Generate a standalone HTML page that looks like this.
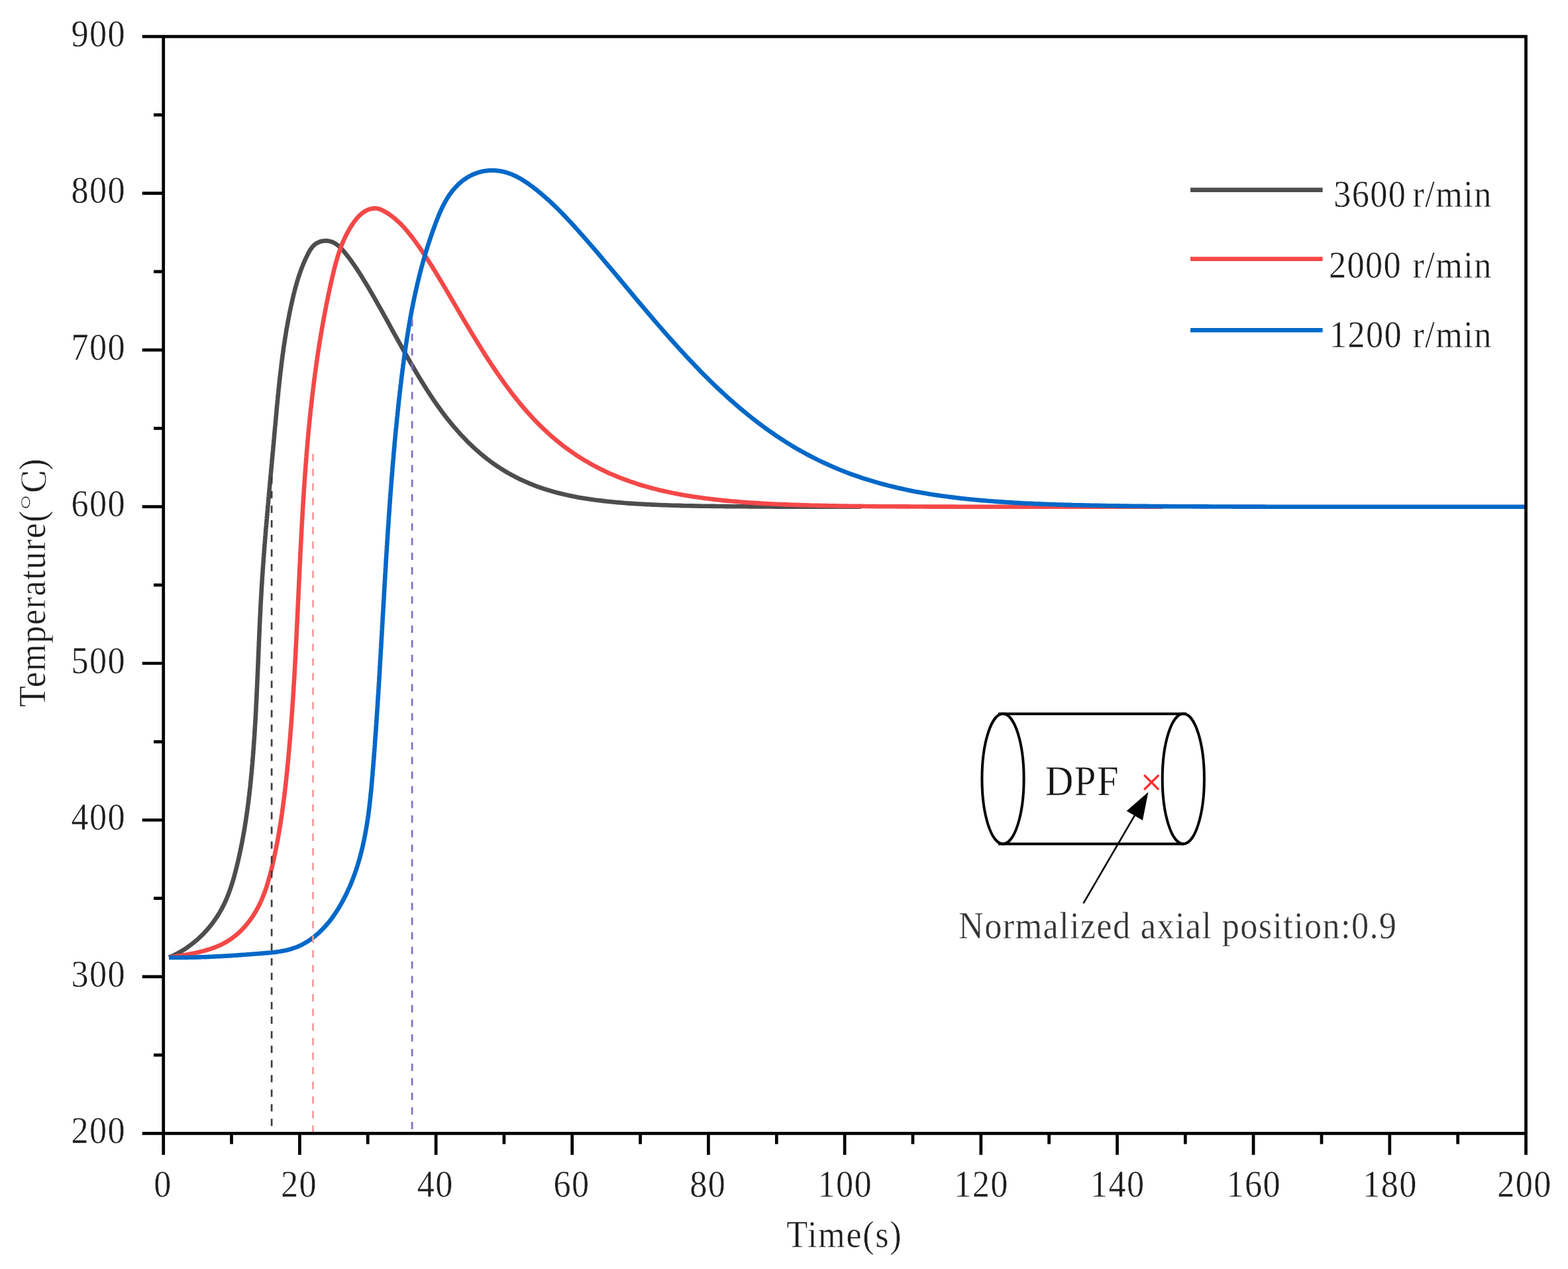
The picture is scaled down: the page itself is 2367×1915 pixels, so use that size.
<!DOCTYPE html>
<html lang="en">
<head>
<meta charset="utf-8">
<title>DPF temperature vs time</title>
<style>
html,body{margin:0;padding:0;background:#fff;}
body{width:2367px;height:1915px;overflow:hidden;}
svg{display:block;filter:blur(0.75px);}
text{font-family:"Liberation Serif","Noto Serif CJK SC","Noto Sans CJK SC",serif;font-size:55px;fill:#1e1e1e;stroke:#ffffff;stroke-width:0.45px;}
.ax{stroke:#000;stroke-width:4.7;fill:none;stroke-linecap:butt;}
.cv{fill:none;stroke-width:6.6;stroke-linejoin:round;stroke-linecap:butt;}
.ds{fill:none;stroke-width:2.7;stroke-dasharray:11 11.03;}
</style>
</head>
<body>
<svg width="2367" height="1915" viewBox="0 0 2367 1915">
<rect x="0" y="0" width="2367" height="1915" fill="#ffffff"/>

<g id="curves">
<path class="cv" stroke="#4d4d4d" d="M255.0,1444.8 L256.6,1444.1 L258.3,1443.4 L259.9,1442.7 L261.5,1441.9 L263.1,1441.2 L264.7,1440.4 L266.3,1439.6 L267.9,1438.7 L269.5,1437.9 L271.0,1437.0 L272.6,1436.1 L274.1,1435.2 L275.7,1434.3 L277.2,1433.3 L278.7,1432.4 L280.2,1431.4 L281.7,1430.4 L283.2,1429.4 L284.6,1428.3 L286.1,1427.3 L287.6,1426.2 L289.0,1425.1 L290.4,1424.0 L291.8,1422.9 L293.2,1421.8 L294.6,1420.6 L296.0,1419.4 L297.4,1418.3 L298.7,1417.1 L300.1,1415.8 L301.4,1414.6 L302.7,1413.4 L304.0,1412.1 L305.3,1410.8 L306.6,1409.6 L307.9,1408.3 L309.1,1406.9 L310.3,1405.6 L311.6,1404.3 L312.8,1402.9 L314.0,1401.5 L315.1,1400.2 L316.3,1398.8 L317.4,1397.4 L318.6,1396.0 L319.7,1394.5 L320.8,1393.1 L321.9,1391.6 L322.9,1390.2 L324.0,1388.7 L325.0,1387.2 L326.0,1385.7 L327.1,1384.2 L328.0,1382.7 L329.0,1381.2 L330.0,1379.7 L330.9,1378.1 L331.8,1376.6 L332.7,1375.0 L333.6,1373.5 L334.5,1371.9 L335.3,1370.3 L336.1,1368.7 L337.0,1367.1 L337.7,1365.5 L338.5,1363.9 L339.3,1362.3 L340.0,1360.7 L340.8,1359.1 L341.5,1357.4 L342.2,1355.8 L342.9,1354.1 L343.5,1352.5 L344.2,1350.8 L344.8,1349.1 L345.5,1347.5 L346.1,1345.8 L346.7,1344.1 L347.3,1342.4 L347.9,1340.7 L348.5,1339.0 L349.0,1337.3 L349.6,1335.6 L350.1,1333.9 L350.7,1332.2 L351.2,1330.5 L351.7,1328.8 L352.2,1327.1 L352.7,1325.3 L353.2,1323.6 L353.7,1321.9 L354.1,1320.1 L354.6,1318.4 L355.1,1316.7 L355.5,1314.9 L356.0,1313.2 L356.4,1311.5 L356.9,1309.7 L357.3,1308.0 L357.7,1306.2 L358.1,1304.5 L358.6,1302.7 L359.0,1301.0 L359.4,1299.2 L359.8,1297.5 L360.2,1295.7 L360.6,1294.0 L361.0,1292.2 L361.4,1290.5 L361.8,1288.7 L362.1,1287.0 L362.5,1285.2 L362.9,1283.5 L363.2,1281.7 L363.6,1279.9 L364.0,1278.2 L364.3,1276.4 L364.7,1274.7 L365.0,1272.9 L365.4,1271.1 L365.7,1269.4 L366.0,1267.6 L366.4,1265.8 L366.7,1264.1 L367.0,1262.3 L367.3,1260.6 L367.6,1258.8 L368.0,1257.0 L368.3,1255.2 L368.6,1253.5 L368.9,1251.7 L369.2,1249.9 L369.5,1248.2 L369.8,1246.4 L370.0,1244.6 L370.3,1242.8 L370.6,1241.1 L370.9,1239.3 L371.1,1237.5 L371.4,1235.7 L371.7,1234.0 L371.9,1232.2 L372.2,1230.4 L372.5,1228.6 L372.7,1226.9 L373.0,1225.1 L373.2,1223.3 L373.5,1221.5 L373.7,1219.7 L373.9,1217.9 L374.2,1216.2 L374.4,1214.4 L374.6,1212.6 L374.9,1210.8 L375.1,1209.0 L375.3,1207.2 L375.5,1205.5 L375.7,1203.7 L376.0,1201.9 L376.2,1200.1 L376.4,1198.3 L376.6,1196.5 L376.8,1194.7 L377.0,1193.0 L377.2,1191.2 L377.4,1189.4 L377.6,1187.6 L377.8,1185.8 L377.9,1184.0 L378.1,1182.2 L378.3,1180.4 L378.5,1178.6 L378.7,1176.9 L378.9,1175.1 L379.0,1173.3 L379.2,1171.5 L379.4,1169.7 L379.5,1167.9 L379.7,1166.1 L379.9,1164.3 L380.0,1162.5 L380.2,1160.7 L380.4,1158.9 L380.5,1157.2 L380.7,1155.4 L380.8,1153.6 L381.0,1151.8 L381.1,1150.0 L381.3,1148.2 L381.4,1146.4 L381.6,1144.6 L381.7,1142.8 L381.9,1141.0 L382.0,1139.2 L382.1,1137.4 L382.3,1135.6 L382.4,1133.8 L382.5,1132.1 L382.7,1130.3 L382.8,1128.5 L382.9,1126.7 L383.1,1124.9 L383.2,1123.1 L383.3,1121.3 L383.4,1119.5 L383.6,1117.7 L383.7,1115.9 L383.8,1114.1 L383.9,1112.3 L384.1,1110.5 L384.2,1108.7 L384.3,1106.9 L384.4,1105.1 L384.5,1103.3 L384.6,1101.5 L384.7,1099.7 L384.8,1097.9 L385.0,1096.1 L385.1,1094.4 L385.2,1092.6 L385.3,1090.8 L385.4,1089.0 L385.5,1087.2 L385.6,1085.4 L385.7,1083.6 L385.8,1081.8 L385.9,1080.0 L386.0,1078.2 L386.1,1076.4 L386.2,1074.6 L386.3,1072.8 L386.4,1071.0 L386.5,1069.2 L386.5,1067.4 L386.6,1065.6 L386.7,1063.8 L386.8,1062.0 L386.9,1060.2 L387.0,1058.4 L387.1,1056.6 L387.2,1054.8 L387.3,1053.0 L387.3,1051.2 L387.4,1049.4 L387.5,1047.6 L387.6,1045.8 L387.7,1044.0 L387.8,1042.2 L387.8,1040.4 L387.9,1038.7 L388.0,1036.9 L388.1,1035.1 L388.2,1033.3 L388.3,1031.5 L388.3,1029.7 L388.4,1027.9 L388.5,1026.1 L388.6,1024.3 L388.6,1022.5 L388.7,1020.7 L388.8,1018.9 L388.9,1017.1 L389.0,1015.3 L389.0,1013.5 L389.1,1011.7 L389.2,1009.9 L389.3,1008.1 L389.3,1006.3 L389.4,1004.5 L389.5,1002.7 L389.6,1000.9 L389.6,999.1 L389.7,997.3 L389.8,995.5 L389.9,993.7 L389.9,991.9 L390.0,990.1 L390.1,988.3 L390.2,986.5 L390.2,984.7 L390.3,982.9 L390.4,981.1 L390.5,979.3 L390.5,977.5 L390.6,975.7 L390.7,974.0 L390.8,972.2 L390.8,970.4 L390.9,968.6 L391.0,966.8 L391.1,965.0 L391.2,963.2 L391.2,961.4 L391.3,959.6 L391.4,957.8 L391.5,956.0 L391.5,954.2 L391.6,952.4 L391.7,950.6 L391.8,948.8 L391.9,947.0 L391.9,945.2 L392.0,943.4 L392.1,941.6 L392.2,939.8 L392.3,938.0 L392.4,936.2 L392.4,934.4 L392.5,932.7 L392.6,930.9 L392.7,929.1 L392.8,927.3 L392.9,925.5 L393.0,923.7 L393.1,921.9 L393.1,920.1 L393.2,918.3 L393.3,916.5 L393.4,914.7 L393.5,912.9 L393.6,911.1 L393.7,909.3 L393.8,907.5 L393.9,905.7 L394.0,904.0 L394.1,902.2 L394.2,900.4 L394.3,898.6 L394.4,896.8 L394.5,895.0 L394.6,893.2 L394.7,891.4 L394.8,889.6 L394.9,887.8 L395.0,886.0 L395.1,884.2 L395.2,882.5 L395.4,880.7 L395.5,878.9 L395.6,877.1 L395.7,875.3 L395.8,873.5 L395.9,871.7 L396.0,869.9 L396.2,868.1 L396.3,866.3 L396.4,864.6 L396.5,862.8 L396.6,861.0 L396.8,859.2 L396.9,857.4 L397.0,855.6 L397.1,853.8 L397.3,852.0 L397.4,850.2 L397.5,848.4 L397.7,846.7 L397.8,844.9 L397.9,843.1 L398.0,841.3 L398.2,839.5 L398.3,837.7 L398.4,835.9 L398.6,834.1 L398.7,832.4 L398.9,830.6 L399.0,828.8 L399.1,827.0 L399.3,825.2 L399.4,823.4 L399.5,821.6 L399.7,819.8 L399.8,818.0 L400.0,816.3 L400.1,814.5 L400.3,812.7 L400.4,810.9 L400.5,809.1 L400.7,807.3 L400.8,805.5 L401.0,803.7 L401.1,802.0 L401.3,800.2 L401.4,798.4 L401.6,796.6 L401.7,794.8 L401.9,793.0 L402.0,791.2 L402.2,789.4 L402.3,787.7 L402.5,785.9 L402.6,784.1 L402.8,782.3 L402.9,780.5 L403.1,778.7 L403.3,776.9 L403.4,775.1 L403.6,773.4 L403.7,771.6 L403.9,769.8 L404.0,768.0 L404.2,766.2 L404.3,764.4 L404.5,762.6 L404.7,760.8 L404.8,759.1 L405.0,757.3 L405.1,755.5 L405.3,753.7 L405.5,751.9 L405.6,750.1 L405.8,748.3 L405.9,746.5 L406.1,744.7 L406.3,743.0 L406.4,741.2 L406.6,739.4 L406.7,737.6 L406.9,735.8 L407.1,734.0 L407.2,732.2 L407.4,730.4 L407.6,728.6 L407.7,726.8 L407.9,725.1 L408.0,723.3 L408.2,721.5 L408.4,719.7 L408.5,717.9 L408.7,716.1 L408.9,714.3 L409.0,712.5 L409.2,710.7 L409.4,708.9 L409.5,707.2 L409.7,705.4 L409.9,703.6 L410.0,701.8 L410.2,700.0 L410.3,698.2 L410.5,696.4 L410.7,694.6 L410.8,692.8 L411.0,691.0 L411.2,689.2 L411.3,687.4 L411.5,685.6 L411.7,683.9 L411.8,682.1 L412.0,680.3 L412.2,678.5 L412.3,676.7 L412.5,674.9 L412.6,673.1 L412.8,671.3 L413.0,669.5 L413.1,667.7 L413.3,665.9 L413.5,664.1 L413.6,662.3 L413.8,660.5 L413.9,658.7 L414.1,656.9 L414.3,655.1 L414.4,653.3 L414.6,651.5 L414.8,649.7 L414.9,647.9 L415.1,646.1 L415.2,644.3 L415.4,642.5 L415.6,640.8 L415.7,639.0 L415.9,637.2 L416.1,635.4 L416.2,633.6 L416.4,631.8 L416.5,630.0 L416.7,628.2 L416.9,626.4 L417.0,624.6 L417.2,622.8 L417.4,621.0 L417.5,619.2 L417.7,617.4 L417.9,615.6 L418.0,613.8 L418.2,612.0 L418.4,610.2 L418.6,608.4 L418.7,606.6 L418.9,604.8 L419.1,603.0 L419.2,601.2 L419.4,599.4 L419.6,597.6 L419.8,595.8 L420.0,594.0 L420.1,592.2 L420.3,590.4 L420.5,588.6 L420.7,586.8 L420.9,585.0 L421.1,583.2 L421.3,581.5 L421.4,579.7 L421.6,577.9 L421.8,576.1 L422.0,574.3 L422.2,572.5 L422.4,570.7 L422.6,568.9 L422.8,567.1 L423.0,565.3 L423.2,563.5 L423.4,561.7 L423.6,560.0 L423.9,558.2 L424.1,556.4 L424.3,554.6 L424.5,552.8 L424.7,551.0 L424.9,549.2 L425.2,547.4 L425.4,545.7 L425.6,543.9 L425.8,542.1 L426.1,540.3 L426.3,538.5 L426.5,536.7 L426.8,535.0 L427.0,533.2 L427.3,531.4 L427.5,529.6 L427.8,527.9 L428.0,526.1 L428.3,524.3 L428.5,522.5 L428.8,520.7 L429.1,519.0 L429.3,517.2 L429.6,515.4 L429.9,513.7 L430.1,511.9 L430.4,510.1 L430.7,508.3 L431.0,506.6 L431.3,504.8 L431.6,503.0 L431.8,501.3 L432.1,499.5 L432.4,497.8 L432.7,496.0 L433.0,494.2 L433.4,492.5 L433.7,490.7 L434.0,488.9 L434.3,487.2 L434.6,485.4 L435.0,483.7 L435.3,481.9 L435.6,480.2 L436.0,478.4 L436.3,476.7 L436.6,474.9 L437.0,473.2 L437.3,471.4 L437.7,469.7 L438.1,467.9 L438.4,466.2 L438.8,464.4 L439.2,462.7 L439.5,461.0 L439.9,459.2 L440.3,457.5 L440.7,455.7 L441.1,454.0 L441.5,452.3 L441.9,450.5 L442.3,448.8 L442.7,447.1 L443.1,445.3 L443.5,443.6 L444.0,441.9 L444.4,440.2 L444.8,438.4 L445.3,436.7 L445.7,435.0 L446.2,433.3 L446.7,431.6 L447.2,429.8 L447.6,428.1 L448.1,426.4 L448.6,424.7 L449.2,423.0 L449.7,421.3 L450.2,419.6 L450.8,417.9 L451.3,416.2 L451.9,414.5 L452.5,412.8 L453.1,411.1 L453.7,409.4 L454.3,407.7 L454.9,406.0 L455.5,404.3 L456.2,402.6 L456.9,400.9 L457.5,399.3 L458.2,397.6 L459.0,395.9 L459.7,394.2 L460.4,392.5 L461.2,390.9 L462.0,389.2 L462.8,387.5 L463.6,385.9 L464.4,384.2 L465.2,382.6 L466.1,380.9 L467.0,379.3 L467.9,377.7 L468.9,376.2 L470.0,374.7 L471.1,373.2 L472.2,371.9 L473.4,370.6 L474.7,369.4 L476.1,368.3 L477.6,367.3 L479.1,366.4 L480.7,365.7 L482.3,365.0 L484.0,364.5 L485.7,364.0 L487.5,363.7 L489.2,363.5 L491.0,363.3 L492.8,363.4 L494.6,363.5 L496.3,363.7 L498.0,364.1 L499.7,364.6 L501.4,365.1 L503.0,365.8 L504.6,366.7 L507.1,368.2 L509.1,369.6 L511.1,371.3 L513.1,373.1 L515.1,375.1 L517.1,377.2 L519.1,379.5 L521.1,381.9 L523.1,384.4 L525.1,386.9 L527.1,389.5 L529.1,392.2 L531.1,395.0 L533.1,397.8 L535.1,400.7 L537.1,403.6 L539.1,406.6 L541.1,409.7 L543.1,412.8 L545.1,416.0 L547.1,419.2 L549.1,422.4 L551.1,425.7 L553.1,429.0 L555.1,432.3 L557.1,435.7 L559.1,439.1 L560.1,440.9 L565.1,449.5 L570.1,458.3 L575.1,467.2 L580.1,476.2 L585.1,485.2 L590.1,494.3 L595.1,503.3 L600.1,512.4 L605.1,521.4 L610.1,530.3 L615.1,539.2 L620.1,547.9 L625.1,556.5 L630.1,565.0 L635.1,573.3 L640.1,581.3 L645.1,589.2 L650.1,596.9 L655.1,604.3 L660.1,611.5 L665.1,618.5 L670.1,625.2 L675.1,631.7 L680.1,637.9 L685.1,643.9 L690.1,649.7 L695.1,655.3 L700.1,660.6 L705.1,665.8 L710.1,670.7 L715.1,675.4 L720.1,679.9 L725.1,684.3 L730.1,688.4 L735.1,692.4 L740.1,696.1 L745.1,699.8 L750.1,703.2 L755.1,706.5 L760.1,709.6 L765.1,712.6 L770.1,715.5 L775.1,718.2 L780.1,720.8 L785.1,723.2 L790.1,725.6 L795.1,727.8 L800.1,729.9 L805.1,731.9 L810.1,733.8 L815.1,735.6 L820.1,737.3 L825.1,738.9 L830.1,740.4 L835.1,741.9 L840.1,743.2 L845.1,744.5 L850.1,745.7 L855.1,746.9 L860.1,748.0 L865.1,749.0 L870.1,750.0 L875.1,750.9 L880.1,751.7 L885.1,752.5 L890.1,753.3 L895.1,754.0 L900.1,754.7 L905.1,755.3 L910.1,755.9 L915.1,756.5 L920.1,757.0 L925.1,757.5 L930.1,758.0 L935.1,758.4 L940.1,758.8 L945.1,759.2 L950.1,759.6 L955.1,759.9 L960.1,760.2 L965.1,760.5 L970.1,760.8 L975.1,761.1 L980.1,761.3 L985.1,761.6 L990.1,761.8 L995.1,762.0 L1000.1,762.2 L1005.1,762.3 L1010.1,762.5 L1015.1,762.7 L1020.1,762.8 L1025.1,762.9 L1030.1,763.1 L1035.1,763.2 L1040.1,763.3 L1045.1,763.4 L1050.1,763.5 L1055.1,763.6 L1060.1,763.7 L1065.1,763.7 L1070.1,763.8 L1075.1,763.9 L1080.1,763.9 L1085.1,764.0 L1090.1,764.0 L1095.1,764.1 L1100.1,764.1 L1105.1,764.2 L1110.1,764.2 L1115.1,764.3 L1120.1,764.3 L1125.1,764.3 L1130.1,764.4 L1135.1,764.4 L1140.1,764.4 L1145.1,764.4 L1150.1,764.5 L1155.1,764.5 L1160.1,764.5 L1165.1,764.5 L1170.1,764.6 L1175.1,764.6 L1180.1,764.6 L1185.1,764.6 L1190.1,764.6 L1195.1,764.6 L1200.1,764.6 L1205.1,764.6 L1210.1,764.7 L1215.1,764.7 L1220.1,764.7 L1225.1,764.7 L1230.1,764.7 L1235.1,764.7 L1240.1,764.7 L1245.1,764.7 L1250.1,764.7 L1255.1,764.7 L1260.1,764.7 L1265.1,764.7 L1270.1,764.7 L1275.1,764.7 L1280.1,764.7 L1285.1,764.7 L1290.1,764.8 L1295.1,764.8 L1300.0,764.8"/>
<path class="cv" stroke="#f44848" d="M255.0,1444.8 L256.8,1444.5 L258.7,1444.2 L260.5,1443.9 L262.3,1443.7 L264.2,1443.4 L266.1,1443.1 L267.9,1442.8 L269.8,1442.5 L271.7,1442.2 L273.5,1441.9 L275.4,1441.6 L277.3,1441.3 L279.2,1441.0 L281.1,1440.7 L283.0,1440.3 L284.9,1440.0 L286.7,1439.6 L288.6,1439.3 L290.5,1438.9 L292.4,1438.5 L294.3,1438.2 L296.2,1437.8 L298.0,1437.3 L299.9,1436.9 L301.8,1436.5 L303.6,1436.0 L305.5,1435.6 L307.4,1435.1 L309.2,1434.6 L311.0,1434.0 L312.9,1433.5 L314.7,1432.9 L316.5,1432.4 L318.3,1431.8 L320.1,1431.2 L321.9,1430.5 L323.7,1429.9 L325.5,1429.2 L327.2,1428.5 L328.9,1427.7 L330.7,1427.0 L332.4,1426.2 L334.1,1425.4 L335.8,1424.6 L337.5,1423.7 L339.1,1422.8 L340.8,1421.9 L342.4,1421.0 L344.0,1420.0 L345.6,1419.0 L347.2,1418.0 L348.7,1416.9 L350.3,1415.8 L351.8,1414.7 L353.3,1413.5 L354.8,1412.4 L356.3,1411.2 L357.7,1409.9 L359.1,1408.7 L360.6,1407.4 L362.0,1406.1 L363.3,1404.8 L364.7,1403.5 L366.0,1402.1 L367.3,1400.7 L368.6,1399.3 L369.9,1397.9 L371.2,1396.4 L372.4,1395.0 L373.6,1393.5 L374.8,1392.0 L376.0,1390.5 L377.1,1388.9 L378.3,1387.4 L379.4,1385.8 L380.5,1384.3 L381.6,1382.7 L382.6,1381.1 L383.6,1379.5 L384.6,1377.8 L385.6,1376.2 L386.6,1374.6 L387.5,1372.9 L388.4,1371.2 L389.3,1369.6 L390.2,1367.9 L391.1,1366.2 L391.9,1364.5 L392.7,1362.8 L393.5,1361.0 L394.3,1359.3 L395.0,1357.6 L395.8,1355.8 L396.5,1354.1 L397.2,1352.3 L397.9,1350.5 L398.6,1348.8 L399.3,1347.0 L399.9,1345.2 L400.6,1343.4 L401.2,1341.6 L401.8,1339.8 L402.4,1338.0 L403.0,1336.2 L403.6,1334.3 L404.1,1332.5 L404.7,1330.7 L405.2,1328.8 L405.7,1327.0 L406.2,1325.2 L406.8,1323.3 L407.3,1321.5 L407.7,1319.6 L408.2,1317.8 L408.7,1315.9 L409.2,1314.1 L409.6,1312.2 L410.1,1310.4 L410.5,1308.5 L411.0,1306.6 L411.4,1304.8 L411.8,1302.9 L412.3,1301.1 L412.7,1299.2 L413.1,1297.3 L413.5,1295.5 L413.9,1293.6 L414.3,1291.7 L414.7,1289.9 L415.1,1288.0 L415.5,1286.2 L415.9,1284.3 L416.3,1282.4 L416.6,1280.6 L417.0,1278.7 L417.4,1276.8 L417.7,1275.0 L418.1,1273.1 L418.5,1271.2 L418.8,1269.4 L419.2,1267.5 L419.5,1265.6 L419.8,1263.8 L420.2,1261.9 L420.5,1260.0 L420.8,1258.2 L421.2,1256.3 L421.5,1254.4 L421.8,1252.6 L422.1,1250.7 L422.4,1248.8 L422.7,1246.9 L423.0,1245.1 L423.3,1243.2 L423.6,1241.3 L423.9,1239.5 L424.2,1237.6 L424.5,1235.7 L424.8,1233.8 L425.0,1232.0 L425.3,1230.1 L425.6,1228.2 L425.8,1226.3 L426.1,1224.5 L426.4,1222.6 L426.6,1220.7 L426.9,1218.9 L427.1,1217.0 L427.4,1215.1 L427.6,1213.2 L427.9,1211.3 L428.1,1209.5 L428.4,1207.6 L428.6,1205.7 L428.8,1203.8 L429.1,1202.0 L429.3,1200.1 L429.5,1198.2 L429.8,1196.3 L430.0,1194.5 L430.2,1192.6 L430.4,1190.7 L430.6,1188.8 L430.8,1186.9 L431.1,1185.1 L431.3,1183.2 L431.5,1181.3 L431.7,1179.4 L431.9,1177.5 L432.1,1175.6 L432.3,1173.8 L432.5,1171.9 L432.7,1170.0 L432.9,1168.1 L433.1,1166.2 L433.3,1164.4 L433.5,1162.5 L433.6,1160.6 L433.8,1158.7 L434.0,1156.8 L434.2,1154.9 L434.4,1153.0 L434.6,1151.2 L434.8,1149.3 L434.9,1147.4 L435.1,1145.5 L435.3,1143.6 L435.5,1141.7 L435.6,1139.8 L435.8,1138.0 L436.0,1136.1 L436.1,1134.2 L436.3,1132.3 L436.5,1130.4 L436.6,1128.5 L436.8,1126.6 L437.0,1124.7 L437.1,1122.8 L437.3,1121.0 L437.5,1119.1 L437.6,1117.2 L437.8,1115.3 L437.9,1113.4 L438.1,1111.5 L438.2,1109.6 L438.4,1107.7 L438.5,1105.8 L438.7,1103.9 L438.8,1102.0 L439.0,1100.2 L439.1,1098.3 L439.3,1096.4 L439.4,1094.5 L439.6,1092.6 L439.7,1090.7 L439.9,1088.8 L440.0,1086.9 L440.1,1085.0 L440.3,1083.1 L440.4,1081.2 L440.6,1079.3 L440.7,1077.4 L440.8,1075.5 L441.0,1073.6 L441.1,1071.8 L441.2,1069.9 L441.3,1068.0 L441.5,1066.1 L441.6,1064.2 L441.7,1062.3 L441.9,1060.4 L442.0,1058.5 L442.1,1056.6 L442.2,1054.7 L442.4,1052.8 L442.5,1050.9 L442.6,1049.0 L442.7,1047.1 L442.8,1045.2 L443.0,1043.3 L443.1,1041.4 L443.2,1039.5 L443.3,1037.6 L443.4,1035.7 L443.5,1033.8 L443.7,1031.9 L443.8,1030.0 L443.9,1028.1 L444.0,1026.2 L444.1,1024.3 L444.2,1022.4 L444.3,1020.5 L444.4,1018.6 L444.6,1016.7 L444.7,1014.8 L444.8,1012.9 L444.9,1011.0 L445.0,1009.1 L445.1,1007.2 L445.2,1005.3 L445.3,1003.4 L445.4,1001.5 L445.5,999.6 L445.6,997.7 L445.7,995.8 L445.8,993.9 L445.9,992.0 L446.0,990.1 L446.1,988.2 L446.2,986.3 L446.3,984.4 L446.4,982.5 L446.5,980.6 L446.6,978.7 L446.7,976.8 L446.8,974.9 L446.9,973.0 L447.0,971.1 L447.1,969.2 L447.2,967.3 L447.3,965.4 L447.4,963.5 L447.5,961.6 L447.6,959.7 L447.7,957.8 L447.8,955.9 L447.8,954.0 L447.9,952.0 L448.0,950.1 L448.1,948.2 L448.2,946.3 L448.3,944.4 L448.4,942.5 L448.5,940.6 L448.6,938.7 L448.7,936.8 L448.8,934.9 L448.9,933.0 L448.9,931.1 L449.0,929.2 L449.1,927.3 L449.2,925.4 L449.3,923.5 L449.4,921.6 L449.5,919.7 L449.6,917.8 L449.7,915.9 L449.7,914.0 L449.8,912.1 L449.9,910.2 L450.0,908.3 L450.1,906.3 L450.2,904.4 L450.3,902.5 L450.4,900.6 L450.5,898.7 L450.5,896.8 L450.6,894.9 L450.7,893.0 L450.8,891.1 L450.9,889.2 L451.0,887.3 L451.1,885.4 L451.2,883.5 L451.3,881.6 L451.3,879.7 L451.4,877.8 L451.5,875.9 L451.6,874.0 L451.7,872.1 L451.8,870.2 L451.9,868.3 L452.0,866.3 L452.1,864.4 L452.1,862.5 L452.2,860.6 L452.3,858.7 L452.4,856.8 L452.5,854.9 L452.6,853.0 L452.7,851.1 L452.8,849.2 L452.9,847.3 L453.0,845.4 L453.1,843.5 L453.2,841.6 L453.2,839.7 L453.3,837.8 L453.4,835.9 L453.5,834.0 L453.6,832.1 L453.7,830.2 L453.8,828.3 L453.9,826.4 L454.0,824.4 L454.1,822.5 L454.2,820.6 L454.3,818.7 L454.4,816.8 L454.5,814.9 L454.6,813.0 L454.7,811.1 L454.8,809.2 L454.9,807.3 L455.0,805.4 L455.1,803.5 L455.2,801.6 L455.3,799.7 L455.4,797.8 L455.5,795.9 L455.6,794.0 L455.7,792.1 L455.8,790.2 L455.9,788.3 L456.0,786.4 L456.1,784.5 L456.2,782.6 L456.3,780.7 L456.5,778.8 L456.6,776.9 L456.7,775.0 L456.8,773.1 L456.9,771.2 L457.0,769.3 L457.1,767.4 L457.2,765.5 L457.3,763.6 L457.5,761.7 L457.6,759.8 L457.7,757.9 L457.8,756.0 L457.9,754.1 L458.0,752.2 L458.2,750.3 L458.3,748.4 L458.4,746.5 L458.5,744.6 L458.7,742.7 L458.8,740.8 L458.9,738.9 L459.0,737.0 L459.2,735.1 L459.3,733.2 L459.4,731.3 L459.5,729.4 L459.7,727.5 L459.8,725.6 L459.9,723.7 L460.1,721.8 L460.2,719.9 L460.3,718.0 L460.5,716.1 L460.6,714.2 L460.7,712.3 L460.9,710.4 L461.0,708.5 L461.2,706.6 L461.3,704.7 L461.4,702.8 L461.6,700.9 L461.7,699.0 L461.9,697.1 L462.0,695.2 L462.2,693.3 L462.3,691.4 L462.5,689.5 L462.6,687.6 L462.8,685.7 L462.9,683.8 L463.1,681.9 L463.2,680.1 L463.4,678.2 L463.6,676.3 L463.7,674.4 L463.9,672.5 L464.0,670.6 L464.2,668.7 L464.4,666.8 L464.5,664.9 L464.7,663.0 L464.9,661.1 L465.0,659.2 L465.2,657.3 L465.4,655.5 L465.6,653.6 L465.7,651.7 L465.9,649.8 L466.1,647.9 L466.3,646.0 L466.5,644.1 L466.6,642.2 L466.8,640.3 L467.0,638.4 L467.2,636.6 L467.4,634.7 L467.6,632.8 L467.8,630.9 L468.0,629.0 L468.2,627.1 L468.3,625.2 L468.5,623.3 L468.7,621.4 L468.9,619.6 L469.1,617.7 L469.3,615.8 L469.6,613.9 L469.8,612.0 L470.0,610.1 L470.2,608.2 L470.4,606.4 L470.6,604.5 L470.8,602.6 L471.0,600.7 L471.2,598.8 L471.5,596.9 L471.7,595.1 L471.9,593.2 L472.1,591.3 L472.4,589.4 L472.6,587.5 L472.8,585.6 L473.0,583.8 L473.3,581.9 L473.5,580.0 L473.7,578.1 L474.0,576.2 L474.2,574.4 L474.5,572.5 L474.7,570.6 L475.0,568.7 L475.2,566.9 L475.4,565.0 L475.7,563.1 L476.0,561.2 L476.2,559.3 L476.5,557.5 L476.7,555.6 L477.0,553.7 L477.2,551.8 L477.5,550.0 L477.8,548.1 L478.0,546.2 L478.3,544.3 L478.6,542.5 L478.9,540.6 L479.1,538.7 L479.4,536.8 L479.7,535.0 L480.0,533.1 L480.2,531.2 L480.5,529.3 L480.8,527.5 L481.1,525.6 L481.4,523.7 L481.7,521.9 L482.0,520.0 L482.3,518.1 L482.6,516.3 L482.9,514.4 L483.2,512.5 L483.5,510.7 L483.8,508.8 L484.1,506.9 L484.4,505.1 L484.7,503.2 L485.1,501.3 L485.4,499.5 L485.7,497.6 L486.0,495.7 L486.4,493.9 L486.7,492.0 L487.0,490.1 L487.3,488.3 L487.7,486.4 L488.0,484.5 L488.4,482.7 L488.7,480.8 L489.0,479.0 L489.4,477.1 L489.7,475.2 L490.1,473.4 L490.4,471.5 L490.8,469.7 L491.2,467.8 L491.5,465.9 L491.9,464.1 L492.2,462.2 L492.6,460.4 L493.0,458.5 L493.4,456.7 L493.7,454.8 L494.1,452.9 L494.5,451.1 L494.9,449.2 L495.2,447.4 L495.6,445.5 L496.0,443.7 L496.4,441.8 L496.8,440.0 L497.2,438.1 L497.6,436.3 L498.0,434.4 L498.4,432.6 L498.8,430.7 L499.2,428.9 L499.6,427.0 L500.1,425.2 L500.5,423.3 L500.9,421.5 L501.3,419.6 L501.7,417.8 L502.2,415.9 L502.6,414.1 L503.1,412.2 L503.5,410.4 L503.9,408.6 L504.4,406.7 L504.9,404.9 L505.3,403.0 L505.8,401.2 L506.3,399.4 L506.8,397.5 L507.3,395.7 L507.8,393.9 L508.3,392.1 L508.8,390.3 L509.4,388.4 L509.9,386.6 L510.5,384.8 L511.1,383.0 L511.7,381.2 L512.3,379.4 L512.9,377.6 L513.5,375.9 L514.2,374.1 L514.9,372.3 L515.5,370.5 L516.2,368.8 L516.9,367.0 L517.7,365.3 L518.4,363.5 L519.2,361.8 L520.0,360.0 L520.8,358.3 L521.6,356.6 L522.5,354.9 L523.4,353.1 L524.3,351.4 L525.2,349.8 L526.1,348.1 L527.1,346.4 L528.1,344.7 L529.1,343.1 L530.1,341.4 L531.2,339.7 L532.3,338.1 L533.4,336.5 L534.5,334.9 L535.7,333.3 L536.9,331.8 L538.1,330.2 L539.4,328.8 L540.7,327.3 L542.0,325.9 L543.4,324.6 L544.8,323.3 L546.3,322.1 L547.8,321.0 L549.3,319.9 L550.9,318.9 L552.5,318.0 L554.1,317.2 L555.8,316.4 L557.5,315.8 L559.3,315.3 L561.2,314.9 L563.0,314.6 L564.9,314.4 L566.9,314.4 L568.7,314.5 L570.6,314.8 L572.4,315.4 L574.2,316.0 L575.9,316.8 L577.7,317.6 L579.4,318.5 L583.0,320.5 L585.0,321.8 L587.0,323.1 L589.0,324.5 L591.0,325.9 L593.0,327.5 L595.0,329.1 L597.0,330.7 L599.0,332.5 L601.0,334.3 L603.0,336.2 L605.0,338.2 L607.0,340.2 L609.0,342.3 L611.0,344.5 L613.0,346.8 L615.0,349.2 L617.0,351.6 L619.0,354.1 L621.0,356.6 L623.0,359.2 L625.0,361.9 L627.0,364.6 L629.0,367.4 L631.0,370.2 L633.0,373.0 L635.0,375.9 L636.0,377.4 L641.0,384.8 L646.0,392.4 L651.0,400.3 L656.0,408.3 L661.0,416.4 L666.0,424.7 L671.0,433.1 L676.0,441.6 L681.0,450.1 L686.0,458.6 L691.0,467.1 L696.0,475.6 L701.0,484.1 L706.0,492.5 L711.0,500.9 L716.0,509.1 L721.0,517.3 L726.0,525.3 L731.0,533.3 L736.0,541.1 L741.0,548.7 L746.0,556.2 L751.0,563.6 L756.0,570.7 L761.0,577.7 L766.0,584.6 L771.0,591.2 L776.0,597.7 L781.0,604.0 L786.0,610.1 L791.0,616.0 L796.0,621.8 L801.0,627.3 L806.0,632.7 L811.0,637.9 L816.0,642.9 L821.0,647.7 L826.0,652.4 L831.0,656.9 L836.0,661.2 L841.0,665.4 L846.0,669.4 L851.0,673.3 L856.0,677.0 L861.0,680.6 L866.0,684.1 L871.0,687.4 L876.0,690.7 L881.0,693.8 L886.0,696.7 L891.0,699.6 L896.0,702.4 L901.0,705.0 L906.0,707.6 L911.0,710.0 L916.0,712.4 L921.0,714.7 L926.0,716.8 L931.0,718.9 L936.0,721.0 L941.0,722.9 L946.0,724.7 L951.0,726.5 L956.0,728.2 L961.0,729.9 L966.0,731.5 L971.0,733.0 L976.0,734.4 L981.0,735.8 L986.0,737.1 L991.0,738.4 L996.0,739.7 L1001.0,740.8 L1006.0,741.9 L1011.0,743.0 L1016.0,744.1 L1021.0,745.0 L1026.0,746.0 L1031.0,746.9 L1036.0,747.8 L1041.0,748.6 L1046.0,749.4 L1051.0,750.1 L1056.0,750.8 L1061.0,751.5 L1066.0,752.2 L1071.0,752.8 L1076.0,753.4 L1081.0,754.0 L1086.0,754.5 L1091.0,755.1 L1096.0,755.6 L1101.0,756.0 L1106.0,756.5 L1111.0,756.9 L1116.0,757.3 L1121.0,757.7 L1126.0,758.1 L1131.0,758.5 L1136.0,758.8 L1141.0,759.1 L1146.0,759.4 L1151.0,759.7 L1156.0,760.0 L1161.0,760.2 L1166.0,760.5 L1171.0,760.7 L1176.0,761.0 L1181.0,761.2 L1186.0,761.4 L1191.0,761.6 L1196.0,761.7 L1201.0,761.9 L1206.0,762.1 L1211.0,762.2 L1216.0,762.4 L1221.0,762.5 L1226.0,762.7 L1231.0,762.8 L1236.0,762.9 L1241.0,763.0 L1246.0,763.1 L1251.0,763.2 L1256.0,763.3 L1261.0,763.4 L1266.0,763.5 L1271.0,763.6 L1276.0,763.6 L1281.0,763.7 L1286.0,763.8 L1291.0,763.8 L1296.0,763.9 L1301.0,763.9 L1306.0,764.0 L1311.0,764.0 L1316.0,764.1 L1321.0,764.1 L1326.0,764.2 L1331.0,764.2 L1336.0,764.2 L1341.0,764.3 L1346.0,764.3 L1351.0,764.3 L1356.0,764.4 L1361.0,764.4 L1366.0,764.4 L1371.0,764.4 L1376.0,764.5 L1381.0,764.5 L1386.0,764.5 L1391.0,764.5 L1396.0,764.5 L1401.0,764.6 L1406.0,764.6 L1411.0,764.6 L1416.0,764.6 L1421.0,764.6 L1426.0,764.6 L1431.0,764.6 L1436.0,764.6 L1441.0,764.6 L1446.0,764.7 L1451.0,764.7 L1456.0,764.7 L1461.0,764.7 L1466.0,764.7 L1471.0,764.7 L1476.0,764.7 L1481.0,764.7 L1486.0,764.7 L1491.0,764.7 L1496.0,764.7 L1501.0,764.7 L1506.0,764.7 L1511.0,764.7 L1516.0,764.7 L1521.0,764.7 L1526.0,764.7 L1531.0,764.7 L1536.0,764.8 L1541.0,764.8 L1546.0,764.8 L1551.0,764.8 L1556.0,764.8 L1561.0,764.8 L1566.0,764.8 L1571.0,764.8 L1576.0,764.8 L1581.0,764.8 L1586.0,764.8 L1591.0,764.8 L1596.0,764.8 L1601.0,764.8 L1606.0,764.8 L1611.0,764.8 L1616.0,764.8 L1621.0,764.8 L1626.0,764.8 L1631.0,764.8 L1636.0,764.8 L1641.0,764.8 L1646.0,764.8 L1651.0,764.8 L1656.0,764.8 L1661.0,764.8 L1666.0,764.8 L1671.0,764.8 L1676.0,764.8 L1681.0,764.8 L1686.0,764.8 L1691.0,764.8 L1696.0,764.8 L1701.0,764.8 L1706.0,764.8 L1711.0,764.8 L1716.0,764.8 L1721.0,764.8 L1726.0,764.8 L1731.0,764.8 L1736.0,764.8 L1741.0,764.8 L1746.0,764.8 L1751.0,764.8 L1756.0,764.8"/>
<path class="cv" stroke="#0068c8" d="M255.0,1445.0 L257.2,1445.0 L259.4,1445.0 L261.6,1445.0 L263.8,1445.0 L266.0,1445.0 L268.1,1445.0 L270.3,1445.0 L272.5,1445.0 L274.6,1445.0 L276.8,1444.9 L278.9,1444.9 L281.1,1444.9 L283.2,1444.9 L285.4,1444.8 L287.5,1444.8 L289.6,1444.7 L291.8,1444.7 L293.9,1444.6 L296.0,1444.6 L298.1,1444.5 L300.3,1444.4 L302.4,1444.4 L304.5,1444.3 L306.6,1444.2 L308.7,1444.1 L310.8,1444.1 L312.9,1444.0 L315.0,1443.9 L317.1,1443.8 L319.2,1443.7 L321.3,1443.6 L323.5,1443.5 L325.6,1443.4 L327.7,1443.3 L329.8,1443.2 L331.9,1443.1 L334.0,1443.0 L336.1,1442.9 L338.2,1442.7 L340.3,1442.6 L342.4,1442.5 L344.5,1442.4 L346.6,1442.2 L348.7,1442.1 L350.9,1442.0 L353.0,1441.8 L355.1,1441.7 L357.2,1441.6 L359.4,1441.4 L361.5,1441.3 L363.6,1441.1 L365.8,1441.0 L367.9,1440.8 L370.0,1440.7 L372.2,1440.5 L374.3,1440.3 L376.5,1440.2 L378.7,1440.0 L380.8,1439.8 L383.0,1439.7 L385.2,1439.5 L387.4,1439.3 L389.5,1439.2 L391.7,1439.0 L393.9,1438.8 L396.1,1438.6 L398.4,1438.5 L400.6,1438.3 L402.8,1438.1 L405.0,1437.9 L407.2,1437.7 L409.4,1437.5 L411.7,1437.2 L413.9,1437.0 L416.1,1436.7 L418.3,1436.4 L420.5,1436.1 L422.6,1435.8 L424.8,1435.4 L427.0,1435.0 L429.1,1434.6 L431.3,1434.2 L433.4,1433.7 L435.5,1433.2 L437.5,1432.6 L439.6,1432.0 L441.6,1431.4 L443.7,1430.7 L445.6,1430.0 L447.6,1429.3 L449.6,1428.5 L451.5,1427.6 L453.4,1426.8 L455.3,1425.8 L457.1,1424.9 L458.9,1423.9 L460.8,1422.9 L462.6,1421.8 L464.3,1420.7 L466.1,1419.6 L467.8,1418.5 L469.5,1417.3 L471.2,1416.0 L472.9,1414.8 L474.5,1413.5 L476.1,1412.2 L477.7,1410.8 L479.3,1409.5 L480.9,1408.1 L482.4,1406.7 L483.9,1405.2 L485.4,1403.7 L486.9,1402.2 L488.4,1400.7 L489.8,1399.1 L491.2,1397.6 L492.7,1396.0 L494.0,1394.4 L495.4,1392.7 L496.8,1391.1 L498.1,1389.4 L499.4,1387.7 L500.7,1386.0 L502.0,1384.2 L503.2,1382.5 L504.4,1380.7 L505.7,1379.0 L506.9,1377.2 L508.0,1375.4 L509.2,1373.5 L510.4,1371.7 L511.5,1369.9 L512.6,1368.0 L513.7,1366.1 L514.8,1364.3 L515.8,1362.4 L516.9,1360.5 L517.9,1358.6 L518.9,1356.7 L519.9,1354.8 L520.9,1352.9 L521.9,1350.9 L522.8,1349.0 L523.7,1347.1 L524.6,1345.1 L525.5,1343.2 L526.4,1341.2 L527.3,1339.3 L528.2,1337.3 L529.0,1335.4 L529.8,1333.4 L530.6,1331.4 L531.4,1329.5 L532.2,1327.5 L533.0,1325.5 L533.7,1323.5 L534.5,1321.5 L535.2,1319.5 L535.9,1317.5 L536.6,1315.5 L537.3,1313.5 L538.0,1311.5 L538.6,1309.5 L539.3,1307.4 L539.9,1305.4 L540.5,1303.4 L541.1,1301.4 L541.7,1299.3 L542.3,1297.3 L542.9,1295.2 L543.5,1293.2 L544.0,1291.1 L544.5,1289.1 L545.1,1287.0 L545.6,1285.0 L546.1,1282.9 L546.6,1280.8 L547.1,1278.8 L547.6,1276.7 L548.0,1274.6 L548.5,1272.6 L548.9,1270.5 L549.4,1268.4 L549.8,1266.3 L550.2,1264.2 L550.7,1262.1 L551.1,1260.0 L551.4,1257.9 L551.8,1255.8 L552.2,1253.7 L552.6,1251.6 L552.9,1249.5 L553.3,1247.4 L553.6,1245.3 L554.0,1243.2 L554.3,1241.1 L554.6,1239.0 L555.0,1236.8 L555.3,1234.7 L555.6,1232.6 L555.9,1230.5 L556.2,1228.3 L556.4,1226.2 L556.7,1224.1 L557.0,1222.0 L557.3,1219.8 L557.5,1217.7 L557.8,1215.6 L558.0,1213.4 L558.3,1211.3 L558.5,1209.1 L558.7,1207.0 L559.0,1204.9 L559.2,1202.7 L559.4,1200.6 L559.6,1198.4 L559.9,1196.3 L560.1,1194.2 L560.3,1192.0 L560.5,1189.9 L560.7,1187.7 L560.9,1185.6 L561.1,1183.4 L561.3,1181.3 L561.5,1179.1 L561.6,1177.0 L561.8,1174.8 L562.0,1172.7 L562.2,1170.5 L562.4,1168.4 L562.5,1166.2 L562.7,1164.1 L562.9,1161.9 L563.1,1159.8 L563.2,1157.6 L563.4,1155.5 L563.6,1153.3 L563.7,1151.2 L563.9,1149.0 L564.1,1146.9 L564.3,1144.7 L564.4,1142.6 L564.6,1140.4 L564.7,1138.3 L564.9,1136.1 L565.1,1134.0 L565.2,1131.8 L565.4,1129.7 L565.6,1127.5 L565.7,1125.4 L565.9,1123.2 L566.0,1121.1 L566.2,1118.9 L566.3,1116.8 L566.5,1114.6 L566.6,1112.5 L566.8,1110.3 L566.9,1108.2 L567.1,1106.1 L567.3,1103.9 L567.4,1101.8 L567.6,1099.6 L567.7,1097.5 L567.8,1095.3 L568.0,1093.2 L568.1,1091.0 L568.3,1088.9 L568.4,1086.7 L568.6,1084.6 L568.7,1082.5 L568.9,1080.3 L569.0,1078.2 L569.1,1076.0 L569.3,1073.9 L569.4,1071.7 L569.6,1069.6 L569.7,1067.4 L569.8,1065.3 L570.0,1063.2 L570.1,1061.0 L570.3,1058.9 L570.4,1056.7 L570.5,1054.6 L570.7,1052.4 L570.8,1050.3 L570.9,1048.1 L571.1,1046.0 L571.2,1043.9 L571.3,1041.7 L571.5,1039.6 L571.6,1037.4 L571.7,1035.3 L571.9,1033.1 L572.0,1031.0 L572.1,1028.9 L572.3,1026.7 L572.4,1024.6 L572.5,1022.4 L572.6,1020.3 L572.8,1018.2 L572.9,1016.0 L573.0,1013.9 L573.2,1011.7 L573.3,1009.6 L573.4,1007.4 L573.5,1005.3 L573.7,1003.2 L573.8,1001.0 L573.9,998.9 L574.0,996.7 L574.2,994.6 L574.3,992.5 L574.4,990.3 L574.5,988.2 L574.7,986.0 L574.8,983.9 L574.9,981.8 L575.0,979.6 L575.2,977.5 L575.3,975.3 L575.4,973.2 L575.5,971.1 L575.7,968.9 L575.8,966.8 L575.9,964.7 L576.0,962.5 L576.1,960.4 L576.3,958.2 L576.4,956.1 L576.5,954.0 L576.6,951.8 L576.8,949.7 L576.9,947.5 L577.0,945.4 L577.1,943.3 L577.2,941.1 L577.4,939.0 L577.5,936.9 L577.6,934.7 L577.7,932.6 L577.8,930.4 L578.0,928.3 L578.1,926.2 L578.2,924.0 L578.3,921.9 L578.5,919.8 L578.6,917.6 L578.7,915.5 L578.8,913.3 L578.9,911.2 L579.1,909.1 L579.2,906.9 L579.3,904.8 L579.4,902.7 L579.6,900.5 L579.7,898.4 L579.8,896.3 L579.9,894.1 L580.0,892.0 L580.2,889.9 L580.3,887.7 L580.4,885.6 L580.5,883.4 L580.7,881.3 L580.8,879.2 L580.9,877.0 L581.0,874.9 L581.2,872.8 L581.3,870.6 L581.4,868.5 L581.5,866.4 L581.7,864.2 L581.8,862.1 L581.9,860.0 L582.0,857.8 L582.2,855.7 L582.3,853.6 L582.4,851.4 L582.6,849.3 L582.7,847.2 L582.8,845.0 L582.9,842.9 L583.1,840.8 L583.2,838.6 L583.3,836.5 L583.5,834.3 L583.6,832.2 L583.7,830.1 L583.9,827.9 L584.0,825.8 L584.1,823.7 L584.3,821.5 L584.4,819.4 L584.5,817.3 L584.7,815.1 L584.8,813.0 L585.0,810.9 L585.1,808.7 L585.2,806.6 L585.4,804.5 L585.5,802.3 L585.6,800.2 L585.8,798.1 L585.9,795.9 L586.1,793.8 L586.2,791.7 L586.4,789.6 L586.5,787.4 L586.6,785.3 L586.8,783.2 L586.9,781.0 L587.1,778.9 L587.2,776.8 L587.4,774.6 L587.5,772.5 L587.7,770.4 L587.8,768.2 L588.0,766.1 L588.1,764.0 L588.3,761.8 L588.4,759.7 L588.6,757.6 L588.7,755.4 L588.9,753.3 L589.0,751.2 L589.2,749.0 L589.4,746.9 L589.5,744.8 L589.7,742.6 L589.8,740.5 L590.0,738.4 L590.2,736.2 L590.3,734.1 L590.5,732.0 L590.6,729.9 L590.8,727.7 L591.0,725.6 L591.1,723.5 L591.3,721.3 L591.5,719.2 L591.7,717.1 L591.8,714.9 L592.0,712.8 L592.2,710.7 L592.3,708.5 L592.5,706.4 L592.7,704.3 L592.9,702.1 L593.0,700.0 L593.2,697.9 L593.4,695.8 L593.6,693.6 L593.8,691.5 L593.9,689.4 L594.1,687.2 L594.3,685.1 L594.5,683.0 L594.7,680.8 L594.9,678.7 L595.1,676.6 L595.3,674.4 L595.5,672.3 L595.6,670.2 L595.8,668.0 L596.0,665.9 L596.2,663.8 L596.4,661.7 L596.6,659.5 L596.8,657.4 L597.0,655.3 L597.2,653.1 L597.4,651.0 L597.6,648.9 L597.8,646.7 L598.1,644.6 L598.3,642.5 L598.5,640.3 L598.7,638.2 L598.9,636.1 L599.1,634.0 L599.3,631.8 L599.5,629.7 L599.8,627.6 L600.0,625.4 L600.2,623.3 L600.4,621.2 L600.6,619.0 L600.9,616.9 L601.1,614.8 L601.3,612.6 L601.6,610.5 L601.8,608.4 L602.0,606.3 L602.2,604.1 L602.5,602.0 L602.7,599.9 L603.0,597.7 L603.2,595.6 L603.4,593.5 L603.7,591.3 L603.9,589.2 L604.2,587.1 L604.4,584.9 L604.7,582.8 L604.9,580.7 L605.2,578.6 L605.4,576.4 L605.7,574.3 L605.9,572.2 L606.2,570.0 L606.4,567.9 L606.7,565.8 L607.0,563.6 L607.2,561.5 L607.5,559.4 L607.8,557.3 L608.1,555.1 L608.3,553.0 L608.6,550.9 L608.9,548.7 L609.2,546.6 L609.4,544.5 L609.7,542.4 L610.0,540.2 L610.3,538.1 L610.6,536.0 L610.9,533.8 L611.2,531.7 L611.5,529.6 L611.8,527.5 L612.1,525.3 L612.4,523.2 L612.7,521.1 L613.1,519.0 L613.4,516.8 L613.7,514.7 L614.0,512.6 L614.3,510.5 L614.7,508.4 L615.0,506.2 L615.3,504.1 L615.7,502.0 L616.0,499.9 L616.4,497.8 L616.7,495.7 L617.1,493.5 L617.4,491.4 L617.8,489.3 L618.2,487.2 L618.5,485.1 L618.9,483.0 L619.3,480.9 L619.7,478.7 L620.1,476.6 L620.4,474.5 L620.8,472.4 L621.2,470.3 L621.6,468.2 L622.0,466.1 L622.5,464.0 L622.9,461.9 L623.3,459.8 L623.7,457.7 L624.1,455.6 L624.6,453.5 L625.0,451.4 L625.4,449.3 L625.9,447.2 L626.3,445.1 L626.8,443.0 L627.2,440.9 L627.7,438.8 L628.2,436.7 L628.6,434.7 L629.1,432.6 L629.6,430.5 L630.1,428.4 L630.6,426.3 L631.1,424.2 L631.6,422.1 L632.1,420.1 L632.6,418.0 L633.1,415.9 L633.6,413.8 L634.2,411.8 L634.7,409.7 L635.2,407.6 L635.8,405.5 L636.3,403.5 L636.9,401.4 L637.5,399.3 L638.0,397.3 L638.6,395.2 L639.2,393.1 L639.8,391.1 L640.4,389.0 L641.0,387.0 L641.6,384.9 L642.2,382.9 L642.8,380.8 L643.4,378.8 L644.0,376.7 L644.7,374.7 L645.3,372.6 L645.9,370.6 L646.6,368.5 L647.3,366.5 L647.9,364.5 L648.6,362.4 L649.3,360.4 L650.0,358.4 L650.6,356.3 L651.3,354.3 L652.0,352.3 L652.8,350.2 L653.5,348.2 L654.2,346.2 L654.9,344.2 L655.7,342.2 L656.4,340.1 L657.2,338.1 L657.9,336.1 L658.7,334.1 L659.5,332.1 L660.3,330.1 L661.1,328.1 L661.9,326.1 L662.7,324.1 L663.5,322.1 L664.4,320.2 L665.2,318.2 L666.1,316.3 L667.0,314.3 L668.0,312.4 L668.9,310.5 L669.9,308.6 L670.9,306.7 L671.9,304.8 L672.9,303.0 L674.0,301.1 L675.1,299.3 L676.2,297.5 L677.4,295.7 L678.6,294.0 L679.8,292.2 L681.1,290.5 L682.4,288.8 L683.7,287.1 L685.1,285.5 L686.5,283.9 L687.9,282.3 L689.4,280.8 L690.9,279.2 L692.5,277.7 L694.1,276.3 L695.7,274.9 L697.4,273.5 L699.1,272.2 L700.8,270.9 L702.6,269.7 L704.4,268.5 L706.2,267.4 L708.0,266.3 L709.9,265.3 L711.8,264.3 L713.8,263.4 L715.7,262.6 L717.7,261.8 L719.7,261.1 L721.8,260.4 L723.8,259.8 L725.9,259.2 L728.0,258.7 L730.1,258.3 L732.2,258.0 L734.3,257.7 L736.4,257.4 L738.5,257.3 L740.7,257.2 L742.8,257.1 L744.9,257.2 L747.1,257.3 L749.2,257.4 L751.3,257.7 L753.4,257.9 L755.5,258.3 L759.4,259.1 L761.4,259.5 L763.4,260.1 L765.4,260.7 L767.4,261.3 L769.4,262.0 L771.4,262.7 L773.4,263.5 L775.4,264.4 L777.4,265.3 L779.4,266.3 L781.4,267.3 L783.4,268.4 L785.4,269.5 L787.4,270.7 L789.4,271.9 L791.4,273.2 L793.4,274.5 L795.4,275.8 L797.4,277.2 L799.4,278.7 L801.4,280.1 L803.4,281.6 L805.4,283.1 L807.4,284.6 L809.4,286.2 L811.4,287.8 L812.4,288.6 L817.4,292.7 L822.4,297.0 L827.4,301.4 L832.4,306.0 L837.4,310.8 L842.4,315.7 L847.4,320.8 L852.4,325.9 L857.4,331.2 L862.4,336.6 L867.4,342.0 L872.4,347.6 L877.4,353.2 L882.4,358.9 L887.4,364.6 L892.4,370.4 L897.4,376.2 L902.4,382.0 L907.4,387.9 L912.4,393.8 L917.4,399.8 L922.4,405.7 L927.4,411.7 L932.4,417.7 L937.4,423.7 L942.4,429.7 L947.4,435.6 L952.4,441.6 L957.4,447.6 L962.4,453.6 L967.4,459.5 L972.4,465.4 L977.4,471.3 L982.4,477.2 L987.4,483.1 L992.4,488.9 L997.4,494.6 L1002.4,500.4 L1007.4,506.1 L1012.4,511.7 L1017.4,517.3 L1022.4,522.9 L1027.4,528.4 L1032.4,533.8 L1037.4,539.2 L1042.4,544.5 L1047.4,549.8 L1052.4,555.0 L1057.4,560.1 L1062.4,565.2 L1067.4,570.2 L1072.4,575.1 L1077.4,580.0 L1082.4,584.8 L1087.4,589.5 L1092.4,594.1 L1097.4,598.7 L1102.4,603.2 L1107.4,607.6 L1112.4,611.9 L1117.4,616.2 L1122.4,620.4 L1127.4,624.5 L1132.4,628.5 L1137.4,632.5 L1142.4,636.4 L1147.4,640.2 L1152.4,643.9 L1157.4,647.5 L1162.4,651.1 L1167.4,654.5 L1172.4,658.0 L1177.4,661.3 L1182.4,664.5 L1187.4,667.7 L1192.4,670.8 L1197.4,673.8 L1202.4,676.8 L1207.4,679.6 L1212.4,682.4 L1217.4,685.2 L1222.4,687.8 L1227.4,690.4 L1232.4,692.9 L1237.4,695.4 L1242.4,697.8 L1247.4,700.1 L1252.4,702.3 L1257.4,704.5 L1262.4,706.7 L1267.4,708.7 L1272.4,710.7 L1277.4,712.7 L1282.4,714.6 L1287.4,716.4 L1292.4,718.2 L1297.4,719.9 L1302.4,721.6 L1307.4,723.2 L1312.4,724.7 L1317.4,726.2 L1322.4,727.7 L1327.4,729.1 L1332.4,730.5 L1337.4,731.8 L1342.4,733.1 L1347.4,734.3 L1352.4,735.5 L1357.4,736.7 L1362.4,737.8 L1367.4,738.9 L1372.4,739.9 L1377.4,740.9 L1382.4,741.9 L1387.4,742.8 L1392.4,743.7 L1397.4,744.6 L1402.4,745.4 L1407.4,746.2 L1412.4,747.0 L1417.4,747.7 L1422.4,748.4 L1427.4,749.1 L1432.4,749.8 L1437.4,750.4 L1442.4,751.0 L1447.4,751.6 L1452.4,752.2 L1457.4,752.7 L1462.4,753.2 L1467.4,753.7 L1472.4,754.2 L1477.4,754.7 L1482.4,755.1 L1487.4,755.5 L1492.4,756.0 L1497.4,756.3 L1502.4,756.7 L1507.4,757.1 L1512.4,757.4 L1517.4,757.8 L1522.4,758.1 L1527.4,758.4 L1532.4,758.7 L1537.4,758.9 L1542.4,759.2 L1547.4,759.5 L1552.4,759.7 L1557.4,759.9 L1562.4,760.2 L1567.4,760.4 L1572.4,760.6 L1577.4,760.8 L1582.4,761.0 L1587.4,761.1 L1592.4,761.3 L1597.4,761.5 L1602.4,761.6 L1607.4,761.8 L1612.4,761.9 L1617.4,762.1 L1622.4,762.2 L1627.4,762.3 L1632.4,762.4 L1637.4,762.5 L1642.4,762.6 L1647.4,762.8 L1652.4,762.8 L1657.4,762.9 L1662.4,763.0 L1667.4,763.1 L1672.4,763.2 L1677.4,763.3 L1682.4,763.3 L1687.4,763.4 L1692.4,763.5 L1697.4,763.5 L1702.4,763.6 L1707.4,763.7 L1712.4,763.7 L1717.4,763.8 L1722.4,763.8 L1727.4,763.9 L1732.4,763.9 L1737.4,764.0 L1742.4,764.0 L1747.4,764.0 L1752.4,764.1 L1757.4,764.1 L1762.4,764.1 L1767.4,764.2 L1772.4,764.2 L1777.4,764.2 L1782.4,764.3 L1787.4,764.3 L1792.4,764.3 L1797.4,764.3 L1802.4,764.4 L1807.4,764.4 L1812.4,764.4 L1817.4,764.4 L1822.4,764.4 L1827.4,764.5 L1832.4,764.5 L1837.4,764.5 L1842.4,764.5 L1847.4,764.5 L1852.4,764.5 L1857.4,764.5 L1862.4,764.6 L1867.4,764.6 L1872.4,764.6 L1877.4,764.6 L1882.4,764.6 L1887.4,764.6 L1892.4,764.6 L1897.4,764.6 L1902.4,764.6 L1907.4,764.6 L1912.4,764.7 L1917.4,764.7 L1922.4,764.7 L1927.4,764.7 L1932.4,764.7 L1937.4,764.7 L1942.4,764.7 L1947.4,764.7 L1952.4,764.7 L1957.4,764.7 L1962.4,764.7 L1967.4,764.7 L1972.4,764.7 L1977.4,764.7 L1982.4,764.7 L1987.4,764.7 L1992.4,764.7 L1997.4,764.7 L2002.4,764.7 L2007.4,764.7 L2012.4,764.7 L2017.4,764.7 L2022.4,764.8 L2027.4,764.8 L2032.4,764.8 L2037.4,764.8 L2042.4,764.8 L2047.4,764.8 L2052.4,764.8 L2057.4,764.8 L2062.4,764.8 L2067.4,764.8 L2072.4,764.8 L2077.4,764.8 L2082.4,764.8 L2087.4,764.8 L2092.4,764.8 L2097.4,764.8 L2102.4,764.8 L2107.4,764.8 L2112.4,764.8 L2117.4,764.8 L2122.4,764.8 L2127.4,764.8 L2132.4,764.8 L2137.4,764.8 L2142.4,764.8 L2147.4,764.8 L2152.4,764.8 L2157.4,764.8 L2162.4,764.8 L2167.4,764.8 L2172.4,764.8 L2177.4,764.8 L2182.4,764.8 L2187.4,764.8 L2192.4,764.8 L2197.4,764.8 L2202.4,764.8 L2207.4,764.8 L2212.4,764.8 L2217.4,764.8 L2222.4,764.8 L2227.4,764.8 L2232.4,764.8 L2237.4,764.8 L2242.4,764.8 L2247.4,764.8 L2252.4,764.8 L2257.4,764.8 L2262.4,764.8 L2267.4,764.8 L2272.4,764.8 L2277.4,764.8 L2282.4,764.8 L2287.4,764.8 L2292.4,764.8 L2297.4,764.8 L2302.4,764.8 L2305.0,764.8"/>
</g>
<g id="dashes">
<line class="ds" stroke="#3c3c3c" x1="410.1" x2="410.1" y1="718.9" y2="1710.4"/>
<line class="ds" stroke="#f29a9a" x1="472.5" x2="472.5" y1="685.1" y2="1710.4"/>
<line class="ds" stroke="#7a6fcc" x1="622.1" x2="622.1" y1="481.4" y2="1710.4"/>
</g>
<g id="axes">
<path class="ax" d="M214.7,55.2 H2305.8 M2303.5,55.2 V1710.4 M214.7,1710.4 H2305.8 M246.7,52.900000000000006 V1742.8000000000002 M2303.5,1710.4 V1742.8000000000002"/>
<path class="ax" d="M232.0,1592.2 H246.7 M214.7,1473.9 H246.7 M232.0,1355.7 H246.7 M214.7,1237.5 H246.7 M232.0,1119.3 H246.7 M214.7,1001.0 H246.7 M232.0,882.8 H246.7 M214.7,764.6 H246.7 M232.0,646.3 H246.7 M214.7,528.1 H246.7 M232.0,409.9 H246.7 M214.7,291.7 H246.7 M232.0,173.4 H246.7"/>
<path class="ax" d="M349.5,1710.4 V1726.4 M452.4,1710.4 V1742.8000000000002 M555.2,1710.4 V1726.4 M658.1,1710.4 V1742.8000000000002 M760.9,1710.4 V1726.4 M863.7,1710.4 V1742.8000000000002 M966.6,1710.4 V1726.4 M1069.4,1710.4 V1742.8000000000002 M1172.3,1710.4 V1726.4 M1275.1,1710.4 V1742.8000000000002 M1377.9,1710.4 V1726.4 M1480.8,1710.4 V1742.8000000000002 M1583.6,1710.4 V1726.4 M1686.5,1710.4 V1742.8000000000002 M1789.3,1710.4 V1726.4 M1892.1,1710.4 V1742.8000000000002 M1995.0,1710.4 V1726.4 M2097.8,1710.4 V1742.8000000000002 M2200.7,1710.4 V1726.4"/>
</g>
<g id="ylabels">
<text transform="translate(190.10,1725.00) scale(0.95,1.02)" text-anchor="end" style="font-size:55px;letter-spacing:1.45px">200</text>
<text transform="translate(190.10,1488.54) scale(0.95,1.02)" text-anchor="end" style="font-size:55px;letter-spacing:1.45px">300</text>
<text transform="translate(190.10,1252.09) scale(0.95,1.02)" text-anchor="end" style="font-size:55px;letter-spacing:1.45px">400</text>
<text transform="translate(190.10,1015.63) scale(0.95,1.02)" text-anchor="end" style="font-size:55px;letter-spacing:1.45px">500</text>
<text transform="translate(190.10,779.17) scale(0.95,1.02)" text-anchor="end" style="font-size:55px;letter-spacing:1.45px">600</text>
<text transform="translate(190.10,542.71) scale(0.95,1.02)" text-anchor="end" style="font-size:55px;letter-spacing:1.45px">700</text>
<text transform="translate(190.10,306.26) scale(0.95,1.02)" text-anchor="end" style="font-size:55px;letter-spacing:1.45px">800</text>
<text transform="translate(190.10,69.80) scale(0.95,1.02)" text-anchor="end" style="font-size:55px;letter-spacing:1.45px">900</text>
</g>
<g id="xlabels">
<text transform="translate(245.90,1805.60) scale(0.95,1.02)" text-anchor="middle" style="font-size:55px;letter-spacing:1.45px">0</text>
<text transform="translate(451.58,1805.60) scale(0.95,1.02)" text-anchor="middle" style="font-size:55px;letter-spacing:1.45px">20</text>
<text transform="translate(657.26,1805.60) scale(0.95,1.02)" text-anchor="middle" style="font-size:55px;letter-spacing:1.45px">40</text>
<text transform="translate(862.94,1805.60) scale(0.95,1.02)" text-anchor="middle" style="font-size:55px;letter-spacing:1.45px">60</text>
<text transform="translate(1068.62,1805.60) scale(0.95,1.02)" text-anchor="middle" style="font-size:55px;letter-spacing:1.45px">80</text>
<text transform="translate(1275.80,1805.60) scale(0.95,1.02)" text-anchor="middle" style="font-size:55px;letter-spacing:1.45px">100</text>
<text transform="translate(1481.48,1805.60) scale(0.95,1.02)" text-anchor="middle" style="font-size:55px;letter-spacing:1.45px">120</text>
<text transform="translate(1687.16,1805.60) scale(0.95,1.02)" text-anchor="middle" style="font-size:55px;letter-spacing:1.45px">140</text>
<text transform="translate(1892.84,1805.60) scale(0.95,1.02)" text-anchor="middle" style="font-size:55px;letter-spacing:1.45px">160</text>
<text transform="translate(2098.52,1805.60) scale(0.95,1.02)" text-anchor="middle" style="font-size:55px;letter-spacing:1.45px">180</text>
<text transform="translate(2301.50,1805.60) scale(0.95,1.02)" text-anchor="middle" style="font-size:55px;letter-spacing:1.45px">200</text>
</g>
<text transform="translate(1274.75,1881.80) scale(0.95,1.02)" text-anchor="middle" style="font-size:55px;letter-spacing:1.75px">Time(s)</text>
<text transform="translate(67.70,878.90) rotate(-90) scale(0.95,1.02)" text-anchor="middle" style="font-size:55px;letter-spacing:1.53px">Temperature(<tspan style="font-size:46px;letter-spacing:0px;stroke-width:0.4px" dx="-3" textLength="70" lengthAdjust="spacingAndGlyphs">℃</tspan><tspan dx="-4.5">)</tspan></text>
<g id="legend">
<line x1="1797" x2="1996.6" y1="286.6" y2="286.6" stroke="#4d4d4d" stroke-width="6.6"/>
<text transform="translate(2013.30,312.20) scale(0.95,1.02)" text-anchor="start" style="font-size:55px;letter-spacing:1.45px">3600</text>
<text transform="translate(2132.60,312.20) scale(0.95,1.02)" text-anchor="start" style="font-size:55px;letter-spacing:1.45px">r/min</text>
<line x1="1797" x2="1996.6" y1="390.7" y2="390.7" stroke="#f44848" stroke-width="6.6"/>
<text transform="translate(2006.00,418.50) scale(0.95,1.02)" text-anchor="start" style="font-size:55px;letter-spacing:1.45px">2000</text>
<text transform="translate(2132.60,418.50) scale(0.95,1.02)" text-anchor="start" style="font-size:55px;letter-spacing:1.45px">r/min</text>
<line x1="1797" x2="1996.6" y1="498.2" y2="498.2" stroke="#0068c8" stroke-width="6.6"/>
<text transform="translate(2007.00,524.40) scale(0.95,1.02)" text-anchor="start" style="font-size:55px;letter-spacing:1.45px">1200</text>
<text transform="translate(2132.60,524.40) scale(0.95,1.02)" text-anchor="start" style="font-size:55px;letter-spacing:1.45px">r/min</text>
</g>
<g id="dpf">
<g fill="none" stroke="#000" stroke-width="4">
<ellipse cx="1514" cy="1175.3" rx="31.6" ry="98.2"/>
<ellipse cx="1786.3" cy="1175.3" rx="31.6" ry="98.2"/>
<path d="M1507,1077.2 H1791 M1507,1273.4 H1787.5"/>
</g>
<text transform="translate(1634.00,1200.10) scale(0.93,1.0)" text-anchor="middle" style="font-size:63px;letter-spacing:1.6px;fill:#141414">DPF</text>
<path d="M1727.2,1169.6 L1749.2,1191.6 M1749.2,1169.6 L1727.2,1191.6" stroke="#ff2a2a" stroke-width="3.4" fill="none"/>
<path d="M1635.5,1363.2 L1715,1226.8" stroke="#000" stroke-width="2.6" fill="none"/>
<path d="M1733.4,1195.2 L1700.7,1223.8 L1724.9,1237.9 Z" fill="#000"/>
<text transform="translate(1778.20,1416.40) scale(0.95,1.02)" text-anchor="middle" style="font-size:55px;letter-spacing:1.45px;fill:#333333">Normalized axial position:0.9</text>
</g>
</svg>
</body>
</html>
